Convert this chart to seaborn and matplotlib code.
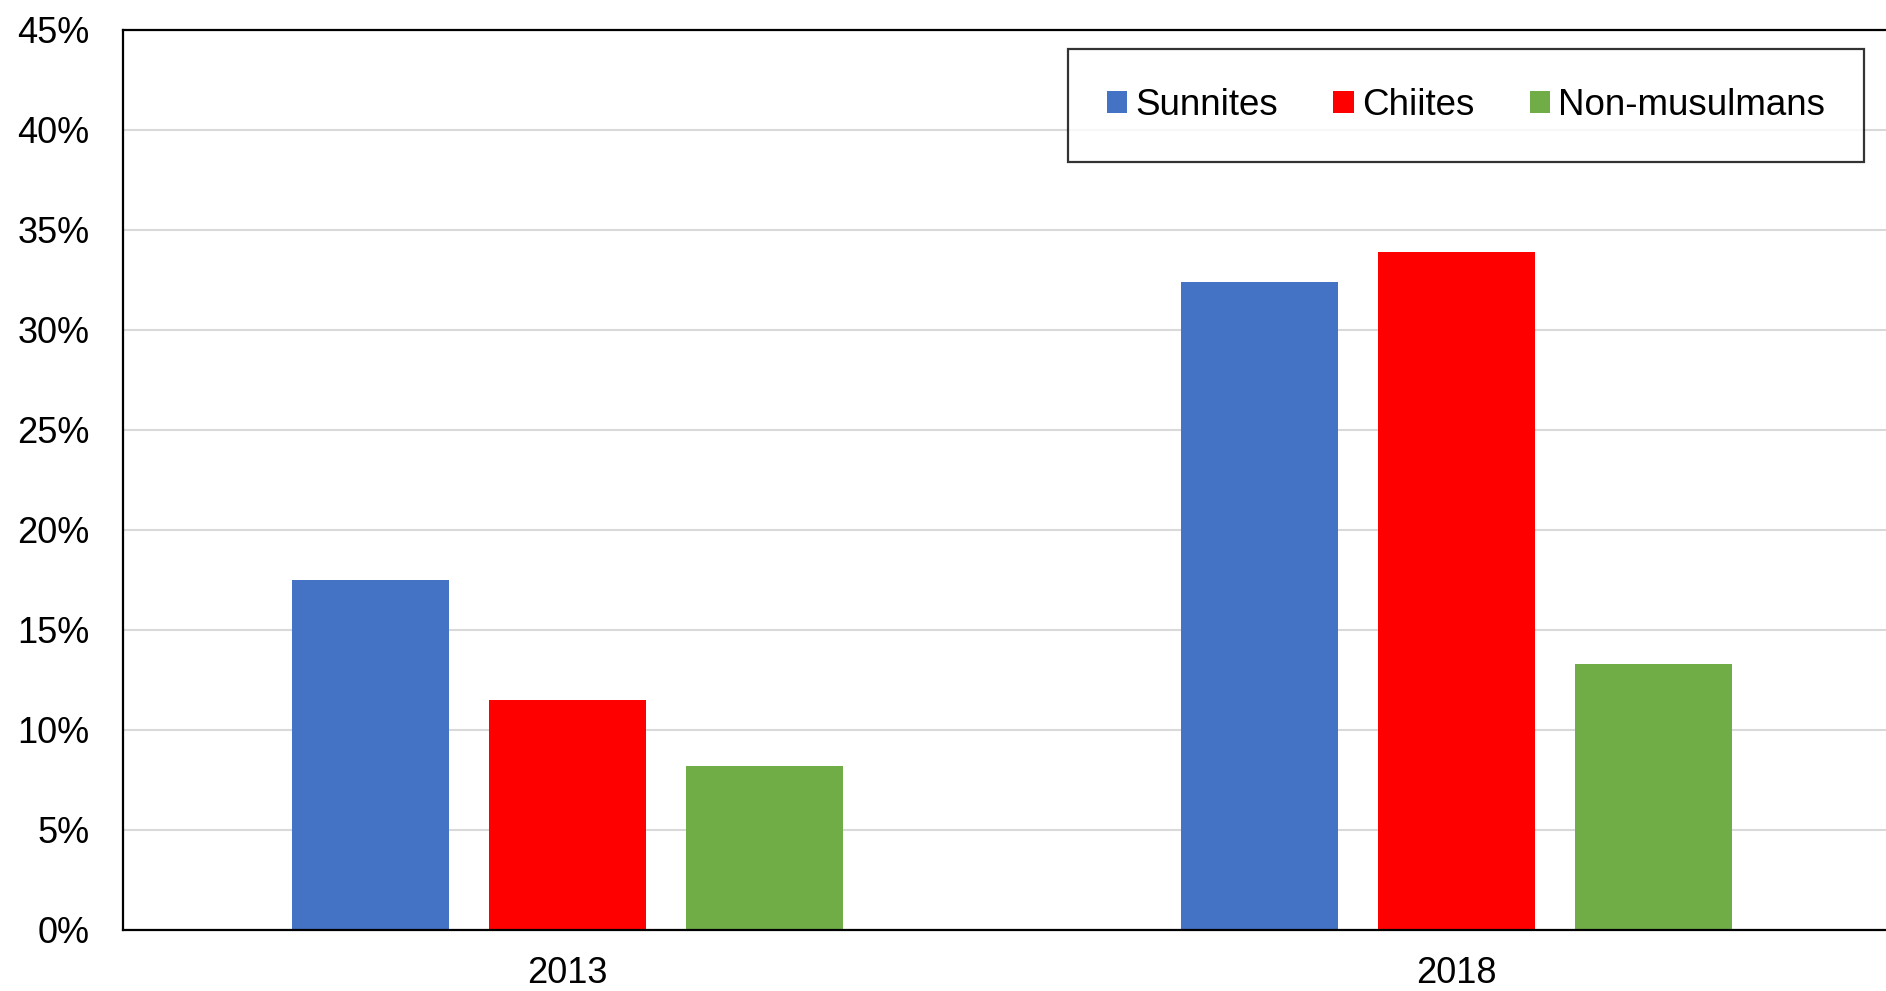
import matplotlib
matplotlib.use("Agg")
import matplotlib.pyplot as plt
from matplotlib.ticker import PercentFormatter
import seaborn as sns
import pandas as pd

# Data (percent)
years = ['2013', '2018']
groups = ['Sunnites', 'Chiites', 'Non-musulmans']
sunnites = [17.5, 32.4]
chiites = [11.5, 33.9]
non_musulmans = [8.2, 13.3]
colors = ['#4472C4', '#FF0000', '#70AD47']

df = pd.DataFrame({
    'Year': years * 3,
    'Group': [g for g in groups for _ in years],
    'Share': sunnites + chiites + non_musulmans,
})

sns.set_style("white")
plt.rcParams['font.family'] = ['Liberation Sans', 'DejaVu Sans']
plt.rcParams['text.color'] = 'black'
plt.rcParams['xtick.color'] = 'black'
plt.rcParams['ytick.color'] = 'black'

fig = plt.figure(figsize=(18.86, 9.91), dpi=100)
ax = fig.add_axes([123 / 1886, 61.5 / 991, 1778 / 1886, 900 / 991])

sns.barplot(data=df, x='Year', y='Share', hue='Group', palette=colors,
            saturation=1, width=0.665, gap=0.203, linewidth=0, ax=ax)

ax.set_xlim(-0.5, 1.5)
ax.set_ylim(0, 45)
ax.set_yticks(range(0, 50, 5))
ax.yaxis.set_major_formatter(PercentFormatter(decimals=0))
ax.grid(axis='y', color='#d9d9d9', linewidth=1.5)
ax.set_axisbelow(True)
ax.set_xlabel('')
ax.set_ylabel('')
ax.tick_params(axis='y', length=0, pad=24, labelsize=26, labelcolor='black')
ax.tick_params(axis='x', length=0, pad=19, labelsize=26, labelcolor='black')
for side in ['left', 'top', 'bottom']:
    ax.spines[side].set_color('black')
    ax.spines[side].set_linewidth(1.6)
ax.spines['right'].set_visible(False)

handles, labels = ax.get_legend_handles_labels()
leg = ax.legend(handles, labels, ncol=3, loc='center',
                bbox_to_anchor=(1466 / 1886, 1 - 105.4 / 991),
                bbox_transform=fig.transFigure,
                fontsize=26.5, frameon=True, fancybox=False,
                handlelength=0.56, handleheight=0.56, handletextpad=0.22,
                columnspacing=1.5, borderpad=1.05)
leg.get_frame().set_edgecolor('black')
leg.get_frame().set_linewidth(1.6)
for t in leg.get_texts():
    t.set_color('black')

fig.savefig('out.png', dpi=100)
